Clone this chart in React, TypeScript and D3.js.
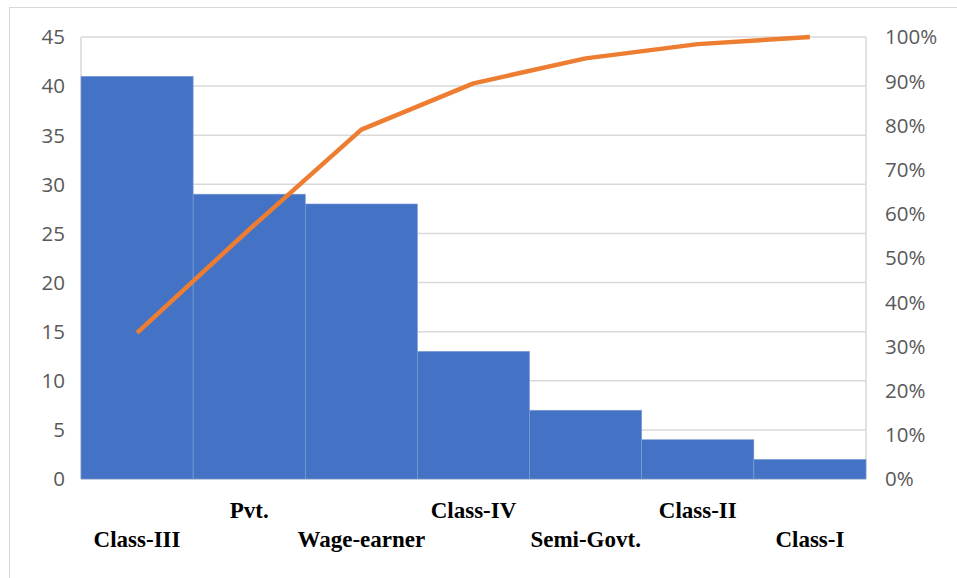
import React from "react";
import * as d3 from "d3";

const categories = ["Class-III", "Pvt.", "Wage-earner", "Class-IV", "Semi-Govt.", "Class-II", "Class-I"];
const counts = [41, 29, 28, 13, 7, 4, 2];
const leftTicks = [0, 5, 10, 15, 20, 25, 30, 35, 40, 45];
const rightTicks = [0, 0.1, 0.2, 0.3, 0.4, 0.5, 0.6, 0.7, 0.8, 0.9, 1.0];

export default function App() {
  const W = 957, H = 578;
  const left = 81, right = 866, top = 37, bottom = 479;
  const total = d3.sum(counts);
  let acc = 0;
  const cumulative = counts.map((c) => { acc += c; return acc / total; });

  const x = d3.scaleBand<string>().domain(categories).range([left, right]).paddingInner(0).paddingOuter(0);
  const y = d3.scaleLinear().domain([0, 45]).range([bottom, top]);
  const y2 = d3.scaleLinear().domain([0, 1]).range([bottom, top]);
  const line = d3.line<number>()
    .x((_, i) => (x(categories[i]) as number) + x.bandwidth() / 2)
    .y((d) => y2(d));

  const tickFont = "'Open Sans', 'Noto Sans', sans-serif";
  return (
    <svg width={W} height={H} style={{ position: "absolute", left: 0, top: 0 }}>
      <rect x={0} y={0} width={W} height={H} fill="#fff" />
      <rect x={9.5} y={7.5} width={W + 10} height={H + 10} fill="none" stroke="#d9d9d9" strokeWidth={1} />
      {leftTicks.map((t) => (
        <line key={"g" + t} x1={left} x2={right} y1={y(t)} y2={y(t)} stroke="#d9d9d9" strokeWidth={1.5} />
      ))}
      <line x1={left} x2={left} y1={top} y2={bottom} stroke="#d9d9d9" strokeWidth={1.5} />
      <line x1={right} x2={right} y1={top} y2={bottom} stroke="#d9d9d9" strokeWidth={1.5} />
      {categories.map((c, i) => (
        <rect key={c} x={x(c)} y={y(counts[i])} width={x.bandwidth()} height={bottom - y(counts[i])}
          fill="#4472C4" stroke="#7f9fd8" strokeWidth={0.6} />
      ))}
      <path d={line(cumulative) || ""} fill="none" stroke="#ED7D31" strokeWidth={4.5} strokeLinejoin="round" />
      {leftTicks.map((t) => (
        <text key={"l" + t} x={65} y={y(t)} dy="0.36em" textAnchor="end" fontSize={20.5} fill="#595959" fontFamily={tickFont}>{t}</text>
      ))}
      {rightTicks.map((t) => (
        <text key={"r" + t} x={885} y={y2(t)} dy="0.36em" textAnchor="start" fontSize={20.5} fill="#595959" fontFamily={tickFont}>{Math.round(t * 100) + "%"}</text>
      ))}
      {categories.map((c, i) => (
        <text key={"c" + c} x={(x(c) as number) + x.bandwidth() / 2} y={i % 2 === 0 ? 547 : 518}
          textAnchor="middle" fontSize={23} fontWeight="bold" fill="#000" fontFamily="'Liberation Serif', 'Times New Roman', serif">{c}</text>
      ))}
    </svg>
  );
}
